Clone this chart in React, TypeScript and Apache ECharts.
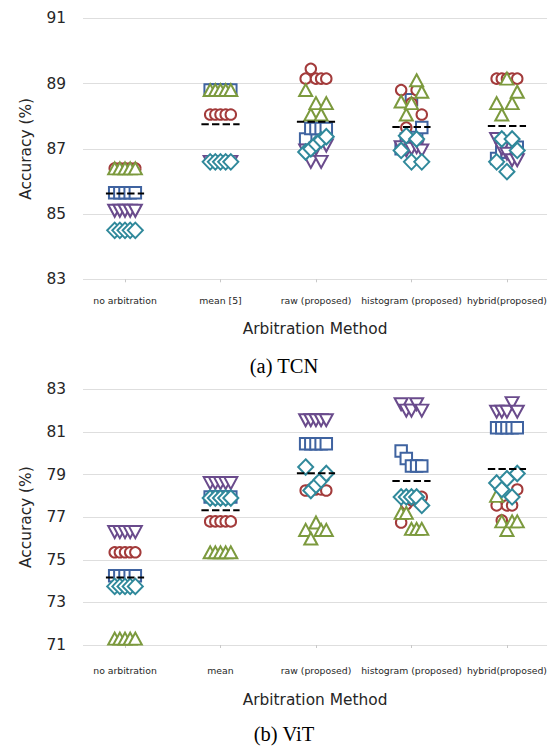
import React, { useEffect, useRef } from "react";
import * as echarts from "echarts";

// ---------- data ----------
const tcnCategories = ["no arbitration", "mean [5]", "raw (proposed)", "histogram (proposed)", "hybrid(proposed)"];
const vitCategories = ["no arbitration", "mean", "raw (proposed)", "histogram (proposed)", "hybrid(proposed)"];

const tcnYTicks = [83, 85, 87, 89, 91];
const vitYTicks = [71, 73, 75, 77, 79, 81, 83];

// each row: one category, 5 runs
const tcnSquare = [
  [85.65, 85.65, 85.65, 85.65, 85.65],
  [88.8, 88.8, 88.8, 88.8, 88.8],
  [87.3, 87.62, 87.62, 87.62, 87.62],
  [87.0, 87.3, 88.5, 87.35, 87.65],
  [86.7, 86.9, 86.9, 87.0, 87.05],
];
const tcnCircle = [
  [86.4, 86.4, 86.4, 86.4, 86.4],
  [88.05, 88.05, 88.05, 88.05, 88.05],
  [89.15, 89.45, 89.15, 89.15, 89.15],
  [88.8, 87.65, 88.4, 88.8, 88.05],
  [89.15, 89.15, 89.15, 89.15, 89.15],
];
const tcnTriUp = [
  [86.4, 86.4, 86.4, 86.4, 86.4],
  [88.8, 88.8, 88.8, 88.8, 88.8],
  [88.8, 88.05, 88.4, 88.05, 88.4],
  [88.45, 88.05, 88.4, 89.1, 88.75],
  [88.4, 88.05, 89.15, 88.4, 88.75],
];
const tcnTriDown = [
  [85.1, 85.1, 85.1, 85.1, 85.1],
  [86.6, 86.6, 86.6, 86.6, 86.6],
  [86.95, 86.6, 87.0, 86.6, 87.1],
  [87.05, 86.95, 87.0, 87.05, 86.95],
  [87.3, 87.0, 86.85, 86.65, 86.65],
];
const tcnDiamond = [
  [84.5, 84.5, 84.5, 84.5, 84.5],
  [86.6, 86.6, 86.6, 86.6, 86.6],
  [86.9, 87.0, 87.15, 87.27, 87.37],
  [86.95, 87.4, 86.6, 87.3, 86.6],
  [86.6, 87.3, 86.3, 87.3, 86.95],
];
const tcnMean = [85.63, 87.75, 87.83, 87.67, 87.7];

const vitSquare = [
  [74.25, 74.25, 74.25, 74.25, 74.25],
  [77.95, 77.95, 77.95, 77.95, 77.95],
  [80.45, 80.45, 80.45, 80.45, 80.45],
  [80.1, 79.75, 79.4, 79.4, 79.4],
  [81.2, 81.2, 81.2, 81.2, 81.2],
];
const vitCircle = [
  [75.35, 75.35, 75.35, 75.35, 75.35],
  [76.8, 76.8, 76.8, 76.8, 76.8],
  [78.25, 78.3, 78.3, 78.3, 78.25],
  [76.75, 77.6, 77.8, 77.9, 77.95],
  [77.55, 76.85, 77.55, 77.55, 78.3],
];
const vitTriUp = [
  [71.3, 71.3, 71.3, 71.3, 71.3],
  [75.35, 75.35, 75.35, 75.35, 75.35],
  [76.4, 76.0, 76.75, 76.4, 76.4],
  [77.2, 77.2, 76.45, 76.45, 76.45],
  [78.0, 76.8, 76.4, 76.8, 76.8],
];
const vitTriDown = [
  [76.3, 76.3, 76.3, 76.3, 76.3],
  [78.6, 78.6, 78.6, 78.6, 78.6],
  [81.55, 81.55, 81.55, 81.55, 81.55],
  [82.3, 82.0, 82.0, 82.3, 82.0],
  [81.95, 81.95, 81.95, 82.35, 81.95],
];
const vitDiamond = [
  [73.75, 73.75, 73.75, 73.75, 73.75],
  [77.9, 77.9, 77.9, 77.9, 77.9],
  [79.35, 78.25, 78.5, 78.75, 79.05],
  [77.95, 77.95, 77.95, 77.95, 77.55],
  [78.6, 78.3, 78.8, 77.95, 79.05],
];
const vitMean = [74.17, 77.32, 79.06, 78.7, 79.26];

// ---------- styles ----------
const RUN_STEP = 0.054;
const MEAN_HALF = 0.2;
const FONT = "DejaVu Sans";

const markerStyles = [
  { symbol: "rect", size: [11.5, 11.5], rotate: 0, color: "#3f63a0" },
  { symbol: "circle", size: [10.5, 10.5], rotate: 0, color: "#a33b3b" },
  { symbol: "triangle", size: [13, 12], rotate: 0, color: "#7c9a3e" },
  { symbol: "triangle", size: [13, 12], rotate: 180, color: "#6a4b8c" },
  { symbol: "diamond", size: [15, 15.5], rotate: 0, color: "#30899b" },
];

function buildSeries(gridIndex: number, groups: number[][][], means: number[]) {
  const out: any[] = [];
  groups.forEach((rows, si) => {
    const st = markerStyles[si];
    const data: number[][] = [];
    rows.forEach((runs, c) => {
      runs.forEach((v, r) => {
        data.push([c + (r - (runs.length - 1) / 2) * RUN_STEP, v]);
      });
    });
    out.push({
      type: "scatter",
      xAxisIndex: gridIndex,
      yAxisIndex: gridIndex,
      symbol: st.symbol,
      symbolSize: st.size,
      symbolRotate: st.rotate,
      itemStyle: { color: "#ffffff", borderColor: st.color, borderWidth: 2, opacity: 1 },
      data,
      silent: true,
      z: 2,
    });
  });
  means.forEach((m, c) => {
    out.push({
      type: "line",
      xAxisIndex: gridIndex,
      yAxisIndex: gridIndex,
      data: [
        [c - MEAN_HALF, m],
        [c + MEAN_HALF, m],
      ],
      symbol: "none",
      showSymbol: false,
      lineStyle: { color: "#000000", width: 2, type: [7.4, 3.2] },
      silent: true,
      z: 5,
    });
  });
  return out;
}

function xAxisFor(gridIndex: number, cats: string[], labelMargin: number, nameGap: number) {
  const idx = cats.map((_, i) => i);
  return {
    type: "value",
    gridIndex,
    min: -0.44,
    max: 4.42,
    axisLine: { show: false },
    splitLine: { show: false },
    axisTick: { show: true, customValues: idx, length: 3, lineStyle: { color: "#c8c8c8", width: 1 } },
    axisLabel: {
      customValues: idx,
      formatter: (v: number) => cats[Math.round(v)] ?? "",
      fontSize: 9.3,
      fontFamily: FONT,
      color: "#262626",
      margin: labelMargin,
    },
    name: "Arbitration Method",
    nameLocation: "middle",
    nameGap,
    nameTextStyle: { fontSize: 15.4, fontFamily: FONT, color: "#262626" },
  };
}

function yAxisFor(gridIndex: number, ticks: number[]) {
  const min = ticks[0];
  const max = ticks[ticks.length - 1];
  return {
    type: "value",
    gridIndex,
    min,
    max,
    interval: 1,
    axisLine: { show: false },
    axisTick: { show: false },
    splitLine: { show: true, lineStyle: { color: ["#dedede", "rgba(0,0,0,0)"], width: 1 } },
    axisLabel: {
      formatter: (v: number) => (ticks.includes(v) ? String(v) : ""),
      fontSize: 15.4,
      fontFamily: FONT,
      color: "#262626",
      margin: 17,
    },
    name: "Accuracy (%)",
    nameLocation: "middle",
    nameGap: 50,
    nameTextStyle: { fontSize: 15.4, fontFamily: FONT, color: "#262626" },
  };
}

export default function App() {
  const ref = useRef<HTMLDivElement>(null);
  useEffect(() => {
    document.body.style.margin = "0";
    if (!ref.current) return;
    const chart = echarts.init(ref.current, undefined, { renderer: "svg" });
    const option: any = {
      animation: false,
      backgroundColor: "#ffffff",
      grid: [
        { left: 83, top: 18.3, width: 467, height: 261 },
        { left: 83, top: 389.3, width: 467, height: 255.7 },
      ],
      xAxis: [xAxisFor(0, tcnCategories, 17, 42.5), xAxisFor(1, vitCategories, 21, 47)],
      yAxis: [yAxisFor(0, tcnYTicks), yAxisFor(1, vitYTicks)],
      series: [
        ...buildSeries(0, [tcnSquare, tcnCircle, tcnTriUp, tcnTriDown, tcnDiamond], tcnMean),
        ...buildSeries(1, [vitSquare, vitCircle, vitTriUp, vitTriDown, vitDiamond], vitMean),
      ],
      graphic: [
        {
          type: "text",
          x: 284,
          y: 366,
          style: { text: "(a) TCN", fontSize: 20.5, fontFamily: "Liberation Serif", fill: "#000", align: "center", verticalAlign: "middle" },
        },
        {
          type: "text",
          x: 284,
          y: 734,
          style: { text: "(b) ViT", fontSize: 20.5, fontFamily: "Liberation Serif", fill: "#000", align: "center", verticalAlign: "middle" },
        },
      ],
    };
    chart.setOption(option);
    return () => chart.dispose();
  }, []);
  return <div ref={ref} style={{ width: 550, height: 747 }} />;
}
